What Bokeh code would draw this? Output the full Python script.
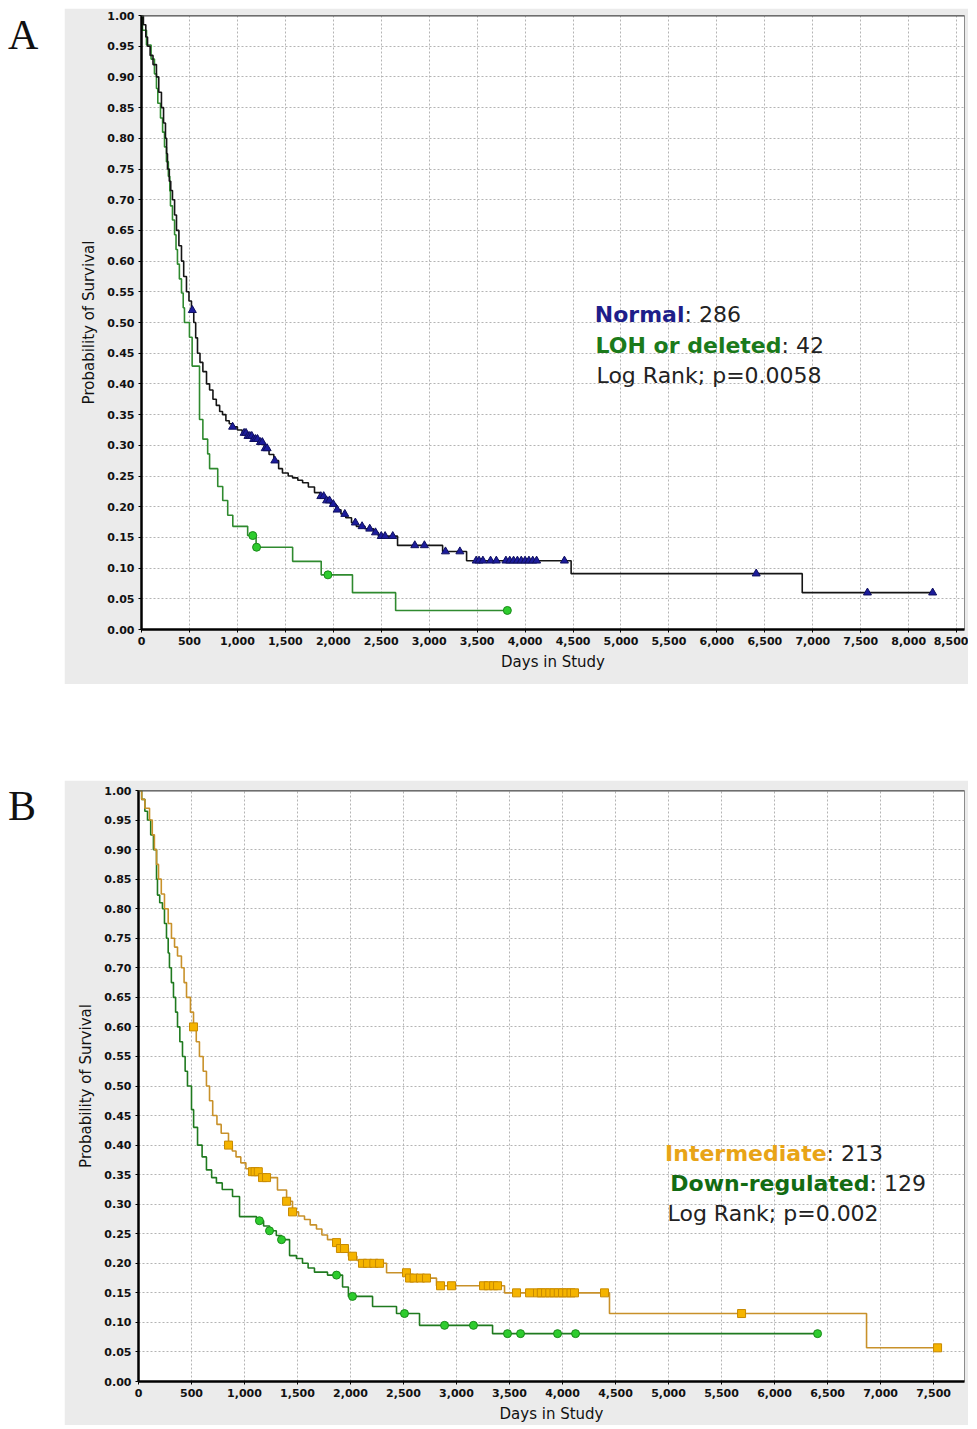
import numpy as np
from bokeh.plotting import figure
from bokeh.models import Range1d, SingleIntervalTicker, NumeralTickFormatter, Label, Span, Div, Spacer
from bokeh.layouts import column, row
from bokeh.embed import file_html
from bokeh.resources import INLINE

# ---------------- Panel A data ----------------
normal_t = [0, 20, 45, 63, 90, 120, 156, 180, 208, 230, 250, 262, 271, 290, 305, 323, 345, 365,
            390, 417, 440, 469, 495, 521, 545, 565, 584, 610, 640, 678, 710, 745, 780, 815, 845,
            880, 915, 950, 1000, 1050, 1100, 1160, 1220, 1280, 1330, 1380, 1430, 1470, 1530,
            1575, 1630, 1680, 1740, 1804, 1860, 1920, 1970, 2030, 2080, 2130, 2190, 2240, 2330,
            2420, 2470, 2670, 3140, 3390, 4480, 6890, 8250]
normal_s = [1.0, 0.985, 0.965, 0.95, 0.935, 0.92, 0.90, 0.875, 0.85, 0.825, 0.80, 0.775, 0.75,
            0.73, 0.715, 0.70, 0.675, 0.65, 0.625, 0.60, 0.575, 0.55, 0.535, 0.52, 0.50, 0.475,
            0.45, 0.435, 0.42, 0.40, 0.39, 0.375, 0.365, 0.355, 0.35, 0.34, 0.335, 0.33, 0.325,
            0.32, 0.315, 0.31, 0.305, 0.295, 0.285, 0.275, 0.262, 0.255, 0.25, 0.247, 0.243,
            0.239, 0.232, 0.223, 0.217, 0.21, 0.204, 0.195, 0.188, 0.182, 0.174, 0.168, 0.164,
            0.158, 0.152, 0.137, 0.127, 0.112, 0.091, 0.06, 0.06]
normal_censor = [530, 950, 1070, 1090, 1110, 1130, 1150, 1170, 1190, 1210, 1240, 1260, 1290, 1310,
                 1390, 1870, 1900, 1930, 1960, 2000, 2040, 2120, 2230, 2300, 2380, 2440, 2500,
                 2540, 2620, 2850, 2950, 3170, 3320, 3490, 3520, 3560, 3640, 3700, 3800, 3840,
                 3880, 3920, 3960, 4000, 4040, 4080, 4120, 4410, 6410, 7570, 8250]

loh_t = [0, 10, 52, 100, 135, 156, 170, 198, 220, 240, 260, 280, 295, 302, 323, 345, 360, 375,
         395, 417, 435, 448, 500, 528, 605, 640, 690, 710, 795, 847, 899, 952, 1107, 1195, 1576,
         1874, 2200, 2650, 3815]
loh_s = [1.0, 0.976, 0.952, 0.929, 0.905, 0.881, 0.857, 0.833, 0.81, 0.786, 0.762, 0.738, 0.714,
         0.69, 0.667, 0.643, 0.619, 0.595, 0.571, 0.548, 0.524, 0.50, 0.476, 0.429, 0.342, 0.31,
         0.286, 0.262, 0.233, 0.21, 0.186, 0.168, 0.153, 0.134, 0.111, 0.089, 0.06, 0.031, 0.031]
loh_censor = [1160, 1200, 1944, 3815]

# ---------------- Panel B data ----------------
int_t = [0, 30, 60, 104, 130, 150, 170, 189, 215, 245, 280, 311, 340, 368, 405, 430, 453, 490,
         519, 545, 575, 610, 641, 670, 700, 740, 780, 849, 885, 920, 965, 1013, 1075, 1150, 1311,
         1397, 1453, 1510, 1566, 1620, 1679, 1730, 1783, 1850, 1900, 1980, 2060, 2113, 2340,
         2540, 2811, 3453, 4443, 6868, 7538]
int_s = [1.0, 0.985, 0.97, 0.95, 0.925, 0.90, 0.875, 0.85, 0.825, 0.80, 0.775, 0.75, 0.735, 0.72,
         0.70, 0.675, 0.65, 0.625, 0.60, 0.575, 0.55, 0.525, 0.50, 0.475, 0.45, 0.435, 0.42, 0.40,
         0.39, 0.38, 0.37, 0.36, 0.355, 0.345, 0.324, 0.305, 0.287, 0.28, 0.274, 0.265, 0.258,
         0.248, 0.24, 0.235, 0.225, 0.212, 0.205, 0.20, 0.184, 0.175, 0.162, 0.15, 0.115, 0.057,
         0.057]
int_censor = [519, 849, 1075, 1100, 1130, 1170, 1208, 1397, 1453, 1868, 1905, 1943, 2019, 2113,
              2160, 2220, 2274, 2528, 2557, 2600, 2660, 2717, 2849, 2953, 3255, 3300, 3350, 3387,
              3566, 3689, 3764, 3800, 3840, 3880, 3920, 3960, 4000, 4040, 4080, 4113, 4396, 5689,
              7538]

down_t = [0, 30, 60, 85, 115, 141, 170, 179, 200, 226, 245, 264, 280, 292, 310, 330, 350, 368,
          390, 415, 440, 462, 500, 520, 557, 600, 641, 690, 735, 790, 887, 953, 1113, 1180, 1236,
          1300, 1349, 1425, 1490, 1547, 1600, 1660, 1783, 1925, 1980, 2208, 2434, 2651, 3340, 6406]
down_s = [1.0, 0.985, 0.965, 0.95, 0.925, 0.90, 0.85, 0.823, 0.81, 0.80, 0.775, 0.75, 0.725, 0.70,
          0.675, 0.65, 0.625, 0.60, 0.575, 0.55, 0.525, 0.50, 0.46, 0.43, 0.40, 0.38, 0.358, 0.345,
          0.336, 0.325, 0.313, 0.279, 0.272, 0.263, 0.255, 0.247, 0.24, 0.213, 0.208, 0.20, 0.192,
          0.185, 0.18, 0.16, 0.144, 0.127, 0.115, 0.095, 0.081, 0.081]
down_censor = [1141, 1236, 1349, 1868, 2019, 2509, 2887, 3160, 3481, 3604, 3953, 4123, 6406]

A_legend = [("Normal", ": 286"), ("LOH or deleted", ": 42")]
A_logrank = "Log Rank; p=0.0058"
B_legend = [("Intermediate", ": 213"), ("Down-regulated", ": 129")]
B_logrank = "Log Rank; p=0.002"


def censor_y(t, s, c):
    t = np.asarray(t, float)
    s = np.asarray(s, float)
    idx = np.searchsorted(t, np.asarray(c, float), side="right") - 1
    return s[idx]


TICK_FONT = "DejaVu Sans"


def base_fig(x_end, height, bl, bt, bb, label_standoff):
    p = figure(width=904, height=height, x_range=Range1d(0, x_end), y_range=Range1d(0, 1.0),
               output_backend="svg", toolbar_location=None,
               min_border_left=bl, min_border_right=4, min_border_top=bt, min_border_bottom=bb)
    p.background_fill_color = "white"
    p.border_fill_color = "#ebebeb"
    p.outline_line_color = "#8c8c8c"
    p.outline_line_width = 1
    p.xaxis.ticker = SingleIntervalTicker(interval=500)
    p.yaxis.ticker = SingleIntervalTicker(interval=0.05)
    p.xgrid.ticker = SingleIntervalTicker(interval=500)
    p.ygrid.ticker = SingleIntervalTicker(interval=0.05)
    p.xaxis.formatter = NumeralTickFormatter(format="0,0")
    p.yaxis.formatter = NumeralTickFormatter(format="0.00")
    for ax in (p.xaxis, p.yaxis):
        ax.axis_line_width = 2.5
        ax.axis_line_color = "black"
        ax.major_tick_out = 3
        ax.major_tick_in = 0
        ax.minor_tick_out = 0
        ax.minor_tick_in = 0
        ax.major_tick_line_color = "black"
        ax.major_label_text_font = TICK_FONT
        ax.major_label_text_font_style = "bold"
        ax.major_label_text_font_size = "11px"
        ax.major_label_text_color = "#111111"
        ax.major_label_standoff = 4
        ax.axis_label_text_font = TICK_FONT
        ax.axis_label_text_font_style = "normal"
        ax.axis_label_text_font_size = "15px"
        ax.axis_label_text_color = "#111111"
    p.xaxis.axis_label = "Days in Study"
    p.yaxis.axis_label = "Probability of Survival"
    p.xaxis.axis_label_standoff = label_standoff
    p.yaxis.axis_label_standoff = 6
    for g in (p.xgrid, p.ygrid):
        g.grid_line_color = "#b4b4b4"
        g.grid_line_dash = "2 2"
        g.grid_line_width = 1
    p.add_layout(Span(location=1.0, dimension="width", line_color="#505050", line_width=2))
    return p


def add_legend(p, entries, colors, x_joins, x_left, ys, logrank):
    for (bold, rest), col, xj, y in zip(entries, colors, x_joins, ys):
        p.add_layout(Label(x=xj, y=y, text=bold, text_align="right", text_baseline="alphabetic",
                           text_font="DejaVu Sans", text_font_style="bold", text_font_size="22px",
                           text_color=col))
        p.add_layout(Label(x=xj, y=y, text=rest, text_align="left", text_baseline="alphabetic",
                           text_font="DejaVu Sans", text_font_size="22px", text_color="#222222"))
    p.add_layout(Label(x=x_left, y=ys[2], text=logrank, text_align="left", text_baseline="alphabetic",
                       text_font="DejaVu Sans", text_font_size="22px", text_color="#222222"))


# ---------------- Panel A ----------------
pA = base_fig(8582, 676, 77, 7, 55, 5)
pA.step(loh_t, loh_s, mode="after", line_color="#2f8a2f", line_width=1.6)
pA.step(normal_t, normal_s, mode="after", line_color="#151515", line_width=1.6)
pA.scatter(loh_censor, censor_y(loh_t, loh_s, loh_censor), marker="circle", size=8,
           fill_color="#2ecc2e", line_color="#1a8a1a", line_width=1)
pA.scatter(normal_censor, censor_y(normal_t, normal_s, normal_censor), marker="triangle", size=8,
           fill_color="#1c1c9c", line_color="#101060", line_width=1)
add_legend(pA, A_legend, ["#1e1e8a", "#1b7a1b"], [5662, 6674], 4745, [0.513, 0.4625, 0.4135],
           A_logrank)

# ---------------- Panel B ----------------
pB = base_fig(7792, 645, 74, 10, 43, 5)
pB.step(down_t, down_s, mode="after", line_color="#1f7a1f", line_width=1.6)
pB.step(int_t, int_s, mode="after", line_color="#c8912a", line_width=1.6)
pB.scatter(down_censor, censor_y(down_t, down_s, down_censor), marker="circle", size=8,
           fill_color="#2ecc2e", line_color="#1a8a1a", line_width=1)
pB.scatter(int_censor, censor_y(int_t, int_s, int_censor), marker="square", size=8,
           fill_color="#f5b400", line_color="#c88a00", line_width=1)
add_legend(pB, B_legend, ["#e8a417", "#136b13"], [6491, 6896], 4991, [0.385, 0.3345, 0.2835],
           B_logrank)

letter_style = {"font-family": "Liberation Serif", "font-size": "42px", "padding-left": "3px",
                "color": "#111111", "line-height": "1"}
dA = Div(text="A", width=54, height=60, styles=dict(letter_style, **{"padding-top": "1px"}))
dB = Div(text="B", width=54, height=60, styles=dict(letter_style, **{"padding-top": "0px"}))

layout = column(Spacer(width=10, height=8), row(dA, pA), Spacer(width=10, height=96), row(dB, pB))
open("out.html", "w").write(file_html(layout, INLINE))
